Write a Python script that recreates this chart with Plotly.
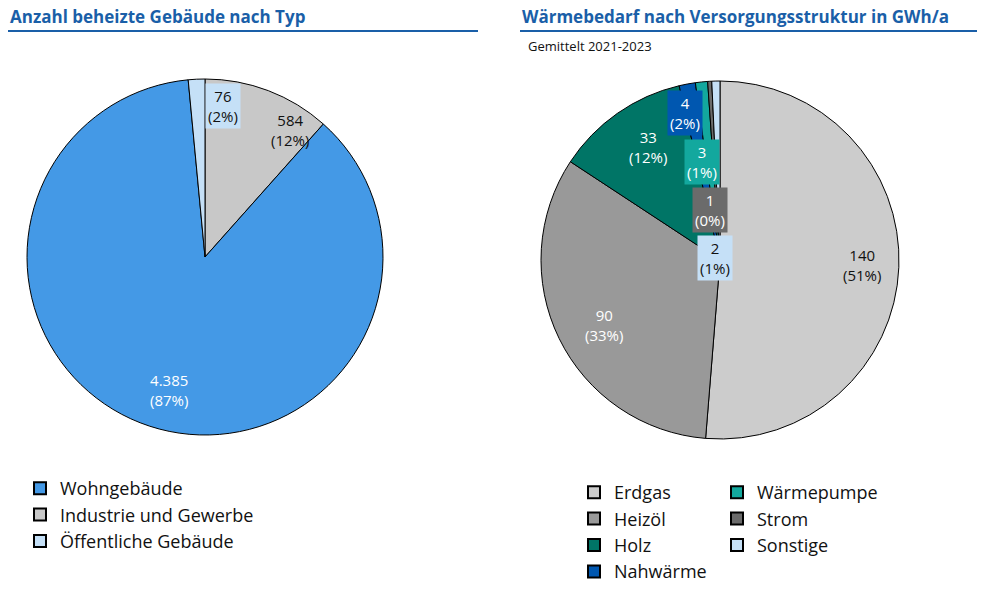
import plotly.graph_objects as go

FONT = "Open Sans"

# left pie: heated buildings by type (clockwise from 12 o'clock)
geb_labels = ["Industrie und Gewerbe", "Wohngebäude", "Öffentliche Gebäude"]
geb_values = [584, 4385, 76]
geb_text = ["584<br>(12%)", "4.385<br>(87%)", "76<br>(2%)"]
geb_colors = ["#c8c8c8", "#4499e6", "#c5e0f7"]
geb_legend = ["Wohngebäude", "Industrie und Gewerbe", "Öffentliche Gebäude"]

# right pie: heat demand by supply structure in GWh/a
wb_labels = ["Erdgas", "Heizöl", "Holz", "Nahwärme", "Wärmepumpe", "Strom", "Sonstige"]
wb_values = [140, 90, 33, 4, 3, 1, 2]
wb_text = ["140<br>(51%)", "90<br>(33%)", "33<br>(12%)", "4<br>(2%)",
           "3<br>(1%)", "1<br>(0%)", "2<br>(1%)"]
wb_colors = ["#cccccc", "#999999", "#007566", "#0057b0", "#13a89e", "#6b6b6b", "#c5e0f7"]

# the page body adds an 8px margin, so work in window pixels and convert
OFF = 8
W, H = 1001 - 2 * OFF, 606 - 2 * OFF
px = lambda x: (x - OFF) / W
py = lambda y: 1 - (y - OFF) / H

fig = go.Figure()
fig.add_trace(go.Pie(
    labels=geb_labels, values=geb_values, sort=False, direction="clockwise",
    rotation=0, textinfo="none", showlegend=False, hoverinfo="label+value",
    marker=dict(colors=geb_colors, line=dict(color="black", width=1)),
    domain=dict(x=[px(27), px(383)], y=[py(435), py(79)])))
fig.add_trace(go.Pie(
    labels=wb_labels, values=wb_values, sort=False, direction="clockwise",
    rotation=0, textinfo="none", showlegend=False, hoverinfo="label+value",
    marker=dict(colors=wb_colors, line=dict(color="black", width=1)),
    domain=dict(x=[px(541), px(899)], y=[py(439), py(81)])))

# legend entries as dummy square markers
cmap = dict(zip(geb_labels, geb_colors))
cmap.update(dict(zip(wb_labels, wb_colors)))
legend_groups = [("legend", geb_legend),
                 ("legend2", ["Erdgas", "Heizöl", "Holz", "Nahwärme"]),
                 ("legend3", ["Wärmepumpe", "Strom", "Sonstige"])]
for leg, names in legend_groups:
    for n in names:
        fig.add_trace(go.Scatter(
            x=[None], y=[None], mode="markers", name=n, legend=leg,
            marker=dict(symbol="square", size=18, color=cmap[n],
                        line=dict(color="black", width=1))))

# slice labels
label_pos = {
    "Industrie und Gewerbe": (268, 130, None, "#111111"),
    "Wohngebäude": (147, 390, None, "white"),
    "Öffentliche Gebäude": (205, 106, "#c5e0f7", "#111111"),
    "Erdgas": (884, 265, None, "#111111"),
    "Heizöl": (604, 325, None, "white"),
    "Holz": (648, 147, None, "white"),
    "Nahwärme": (703, 113, "#0057b0", "white"),
    "Wärmepumpe": (720, 162, "#13a89e", "white"),
    "Strom": (728, 210, "#6b6b6b", "white"),
    "Sonstige": (733, 258, "#c5e0f7", "#111111"),
}
annotations = []
for lab, txt in zip(geb_labels + wb_labels, geb_text + wb_text):
    x, y, bg, fc = label_pos[lab]
    annotations.append(dict(x=px(x), y=py(y), xref="paper", yref="paper",
                            text=txt, showarrow=False, bgcolor=bg, borderpad=2,
                            yanchor="middle",
                            font=dict(family=FONT, size=15, color=fc)))

annotations += [
    dict(x=px(8), y=py(16), xref="paper", yref="paper", xanchor="left",
         yanchor="middle", text="<b>Anzahl beheizte Gebäude nach Typ</b>",
         showarrow=False, font=dict(family=FONT, size=17, color="#1a5fa8")),
    dict(x=px(520), y=py(16), xref="paper", yref="paper", xanchor="left",
         yanchor="middle", text="<b>Wärmebedarf nach Versorgungsstruktur in GWh/a</b>",
         showarrow=False, font=dict(family=FONT, size=17, color="#1a5fa8")),
    dict(x=px(526), y=py(46), xref="paper", yref="paper", xanchor="left",
         yanchor="middle", text="Gemittelt 2021-2023", showarrow=False,
         font=dict(family=FONT, size=13, color="#111111")),
]

shapes = [
    dict(type="line", xref="paper", yref="paper", x0=px(8), x1=px(478),
         y0=py(31), y1=py(31), line=dict(color="#1a5fa8", width=2)),
    dict(type="line", xref="paper", yref="paper", x0=px(520), x1=px(977),
         y0=py(31), y1=py(31), line=dict(color="#1a5fa8", width=2)),
]

leg_style = dict(font=dict(family=FONT, size=18, color="#111111"),
                 bgcolor="rgba(0,0,0,0)", tracegroupgap=0, itemsizing="constant",
                 yanchor="top", xanchor="left")

fig.update_layout(
    width=W, height=H, paper_bgcolor="white", plot_bgcolor="white",
    margin=dict(l=0, r=0, t=0, b=0),
    xaxis=dict(visible=False), yaxis=dict(visible=False),
    annotations=annotations, shapes=shapes,
    legend=dict(x=px(20), y=py(470), **leg_style),
    legend2=dict(x=px(574), y=py(474), **leg_style),
    legend3=dict(x=px(717), y=py(474), **leg_style),
)

fig.write_html("out.html")
